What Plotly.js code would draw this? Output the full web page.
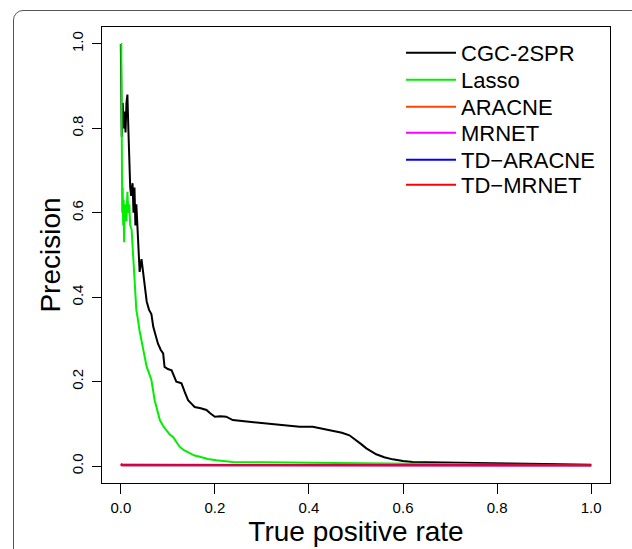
<!DOCTYPE html>
<html>
<head>
<meta charset="utf-8">
<script src="https://cdn.plot.ly/plotly-3.0.1.min.js"></script>
<style>
  html, body { margin: 0; padding: 0; background: #fff; width: 632px; height: 549px; overflow: hidden; }
  #frame { position: absolute; left: 13px; top: 10px; width: 700px; height: 600px;
           border: 1.5px solid #555; border-top-left-radius: 10px; box-sizing: border-box; }
  #chart { position: absolute; left: 0; top: 0; width: 632px; height: 549px; }
</style>
</head>
<body>
<div id="frame"></div>
<div id="chart"></div>
<script>
// ---- data ----
const seriesNames = ["CGC-2SPR", "Lasso", "ARACNE", "MRNET", "TD\u2212ARACNE", "TD\u2212MRNET"];

const cgcTPR = [0, 0.002, 0.004, 0.006, 0.008, 0.010, 0.012, 0.014, 0.016, 0.018, 0.020,
  0.022, 0.025, 0.027, 0.029, 0.031, 0.033, 0.035, 0.037, 0.040, 0.044,
  0.048, 0.051, 0.055, 0.060, 0.065, 0.069, 0.074, 0.079, 0.085, 0.090,
  0.093, 0.100, 0.108, 0.113, 0.118, 0.124, 0.129, 0.136, 0.143, 0.150,
  0.157, 0.170, 0.182, 0.190, 0.200, 0.212, 0.224, 0.238, 0.255, 0.274,
  0.290, 0.309, 0.338, 0.380, 0.408, 0.444, 0.470, 0.486, 0.500, 0.511,
  0.522, 0.533, 0.543, 0.560, 0.578, 0.600, 0.620, 0.650, 0.690, 0.760,
  0.830, 0.900, 1.0];
const cgcPrec = [1.0, 0.78, 0.86, 0.80, 0.84, 0.79, 0.86, 0.88, 0.80, 0.72, 0.66,
  0.64, 0.67, 0.60, 0.66, 0.57, 0.62, 0.575, 0.52, 0.46, 0.49,
  0.45, 0.42, 0.39, 0.37, 0.36, 0.33, 0.31, 0.29, 0.275, 0.267,
  0.235, 0.23, 0.227, 0.215, 0.20, 0.198, 0.196, 0.175, 0.156, 0.148,
  0.14, 0.137, 0.133, 0.125, 0.117, 0.118, 0.117, 0.109, 0.107, 0.105,
  0.102, 0.10, 0.097, 0.093, 0.093, 0.085, 0.079, 0.073, 0.062, 0.052,
  0.042, 0.034, 0.028, 0.021, 0.016, 0.012, 0.010, 0.009, 0.008, 0.007,
  0.006, 0.005, 0.003];

const lassoTPR = [0, 0.001, 0.002, 0.003, 0.004, 0.005, 0.006, 0.007, 0.008, 0.010,
  0.012, 0.014, 0.016, 0.018, 0.020, 0.023, 0.026, 0.030, 0.033, 0.036,
  0.040, 0.047, 0.055, 0.060, 0.065, 0.072, 0.078, 0.083, 0.090, 0.097,
  0.104, 0.111, 0.118, 0.125, 0.135, 0.146, 0.157, 0.168, 0.185, 0.203,
  0.238, 0.30, 0.38, 0.45, 0.55, 0.65, 0.75, 0.85, 1.0];
const lassoPrec = [1.0, 1.0, 0.78, 0.60, 0.66, 0.57, 0.63, 0.53, 0.60, 0.62,
  0.58, 0.65, 0.60, 0.62, 0.57, 0.56, 0.50, 0.43, 0.37, 0.35,
  0.32, 0.28, 0.235, 0.22, 0.204, 0.156, 0.13, 0.109, 0.095, 0.085,
  0.075, 0.069, 0.057, 0.046, 0.037, 0.030, 0.025, 0.022, 0.017, 0.014,
  0.010, 0.009, 0.008, 0.007, 0.006, 0.005, 0.004, 0.003, 0.002];

const baseTPR = [0, 0.002, 0.005, 0.02, 0.1, 0.3, 0.5, 0.7, 0.9, 1.0];
const aracnePrec   = [0.003, 0.003, 0.002, 0.002, 0.002, 0.002, 0.002, 0.002, 0.002, 0.002];
const mrnetPrec    = [0.003, 0.003, 0.002, 0.002, 0.002, 0.002, 0.002, 0.002, 0.002, 0.002];
const tdAracnePrec = [0.002, 0.002, 0.002, 0.002, 0.002, 0.002, 0.002, 0.002, 0.002, 0.002];
const tdMrnetPrec  = [0.005, 0.003, 0.002, 0.002, 0.002, 0.002, 0.002, 0.002, 0.002, 0.002];

const xTicks = [0, 0.2, 0.4, 0.6, 0.8, 1.0];
const xTickText = ["0.0", "0.2", "0.4", "0.6", "0.8", "1.0"];
const yTicks = [0, 0.2, 0.4, 0.6, 0.8, 1.0];
const yTickText = ["0.0", "0.2", "0.4", "0.6", "0.8", "1.0"];

// ---- traces ----
const colors = ["#000000", "#00ee00", "#ff4500", "#ff00ff", "#0000ff", "#ff0000"];
const xs = [cgcTPR, lassoTPR, baseTPR, baseTPR, baseTPR, baseTPR];
const ys = [cgcPrec, lassoPrec, aracnePrec, mrnetPrec, tdAracnePrec, tdMrnetPrec];
const legendIds = ["legend", "legend2", "legend3", "legend4", "legend5", "legend6"];

const traces = seriesNames.map((n, i) => ({
  type: "scatter", mode: "lines", name: n,
  x: xs[i], y: ys[i], legend: legendIds[i],
  line: { color: colors[i], width: 2 }
}));

const font = "Liberation Sans, Arial, sans-serif";

// plot area in px: left 102, right 610, top 27, bottom 483
const legendRowsPx = [53, 80, 107, 133, 160, 185];

const layout = {
  width: 632, height: 549,
  margin: { l: 102, r: 22, t: 27, b: 66 },
  paper_bgcolor: "rgba(0,0,0,0)",
  plot_bgcolor: "rgba(0,0,0,0)",
  font: { family: font, color: "#000" },
  showlegend: true,
  xaxis: {
    range: [-0.04, 1.04], tickvals: xTicks, ticktext: xTickText,
    ticks: "outside", ticklen: 10, tickwidth: 1, tickcolor: "#000",
    showline: true, linecolor: "#000", linewidth: 1, mirror: true,
    showgrid: false, zeroline: false,
    tickfont: { family: font, size: 15, color: "#000" },
    ticklabelstandoff: 1,
    title: { text: "True positive rate", font: { family: font, size: 28, color: "#000" }, standoff: 2 }
  },
  yaxis: {
    range: [-0.04, 1.04], tickvals: yTicks, ticktext: yTickText,
    ticks: "outside", ticklen: 9, tickwidth: 1, tickcolor: "#000",
    showline: true, linecolor: "#000", linewidth: 1, mirror: true,
    showgrid: false, zeroline: false, tickangle: -90,
    tickfont: { family: font, size: 15, color: "#000" },
    ticklabelstandoff: 3,
    title: { text: "Precision", font: { family: font, size: 28, color: "#000" }, standoff: 0 }
  }
};

legendIds.forEach((id, i) => {
  layout[id] = {
    x: (401 - 102) / 508, y: (483 - legendRowsPx[i]) / 456,
    xanchor: "left", yanchor: "middle",
    bgcolor: "rgba(0,0,0,0)", borderwidth: 0,
    font: { family: font, size: 22, color: "#000" },
    itemwidth: 50
  };
});

Plotly.newPlot("chart", traces, layout, { staticPlot: true, displayModeBar: false });
</script>
</body>
</html>
